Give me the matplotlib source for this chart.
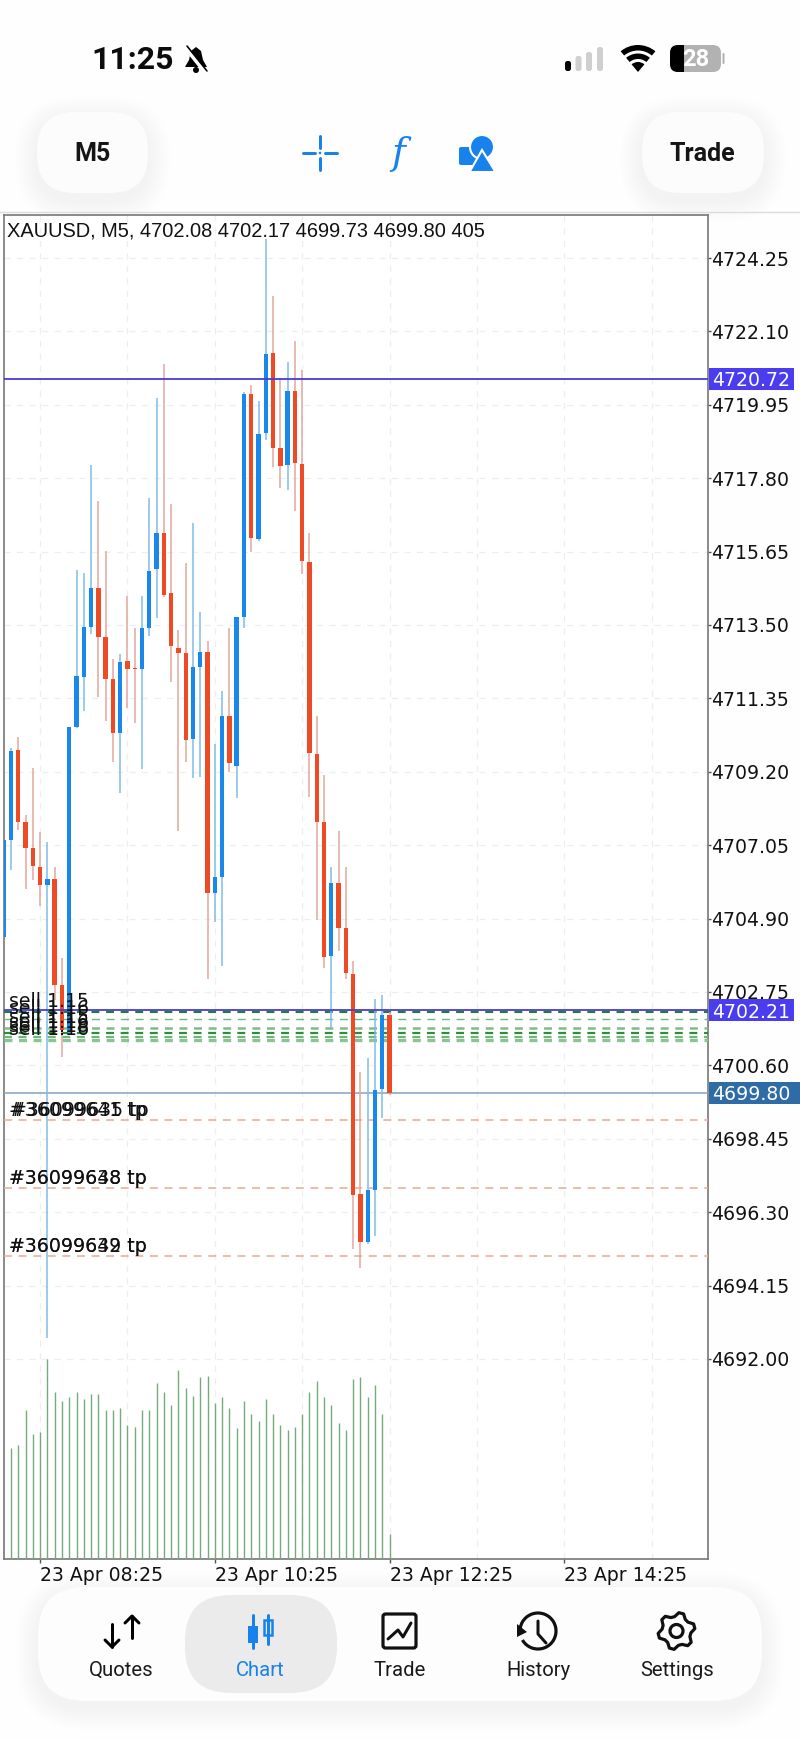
import numpy as np
import matplotlib
matplotlib.use('Agg')
import matplotlib.pyplot as plt
from matplotlib.patches import FancyBboxPatch, Rectangle, Circle, Polygon, Wedge, Arc

# Candles, oldest first. The first one sits half behind the left border
bars = list(range(-1, 53))
opens = [4704.36, 4707.20, 4709.84, 4707.73, 4706.97, 4706.41, 4705.89, 4706.06, 4702.96, 4701.58,
         4710.52, 4711.98, 4713.44, 4714.58, 4713.15, 4711.92, 4710.34, 4712.45, 4712.23, 4712.21,
         4713.41, 4715.14, 4716.20, 4714.44, 4712.83, 4712.68, 4710.16, 4712.27, 4712.71, 4705.65,
         4706.12, 4710.84, 4709.37, 4713.73, 4720.27, 4716.02, 4719.13, 4721.47, 4718.69, 4718.19,
         4720.35, 4718.22, 4715.35, 4709.72, 4707.73, 4703.81, 4705.95, 4704.63, 4703.28, 4696.84,
         4695.43, 4696.95, 4699.91, 4702.08]
highs = [4707.20, 4709.90, 4710.22, 4707.93, 4709.31, 4707.44, 4707.15, 4706.41, 4703.75, 4710.52,
         4715.11, 4715.03, 4718.19, 4717.13, 4715.67, 4712.50, 4712.65, 4714.35, 4713.41, 4714.35,
         4717.22, 4720.15, 4721.15, 4717.05, 4713.35, 4715.32, 4716.49, 4713.88, 4713.03, 4710.02,
         4711.57, 4713.41, 4713.73, 4720.33, 4720.53, 4720.06, 4724.81, 4723.14, 4720.74, 4721.20,
         4721.82, 4720.97, 4716.20, 4710.84, 4709.11, 4706.41, 4707.47, 4706.41, 4703.66, 4700.41,
         4700.82, 4702.55, 4702.66, 4702.17]
lows = [4704.36, 4706.32, 4707.50, 4705.77, 4706.03, 4705.27, 4692.62, 4702.52, 4700.85, 4701.55,
        4710.49, 4710.98, 4713.24, 4711.39, 4710.69, 4709.49, 4708.58, 4711.07, 4710.63, 4709.28,
        4713.18, 4713.71, 4714.32, 4711.83, 4707.47, 4709.49, 4709.02, 4709.05, 4703.13, 4704.80,
        4703.51, 4709.19, 4708.43, 4713.41, 4715.64, 4715.96, 4718.92, 4718.13, 4717.52, 4717.46,
        4716.84, 4715.00, 4708.46, 4704.86, 4703.46, 4701.70, 4703.95, 4703.13, 4695.23, 4694.67,
        4695.37, 4695.61, 4699.06, 4699.73]
closes = [4707.20, 4709.81, 4707.73, 4706.97, 4706.44, 4705.89, 4706.06, 4702.96, 4701.64, 4710.52,
          4712.01, 4713.44, 4714.58, 4713.15, 4711.92, 4710.34, 4712.42, 4712.21, 4712.20, 4713.41,
          4715.08, 4716.20, 4714.38, 4712.88, 4712.68, 4710.13, 4712.27, 4712.71, 4705.65, 4706.12,
          4710.84, 4709.46, 4713.73, 4720.27, 4716.05, 4719.10, 4721.44, 4718.69, 4718.16, 4720.35,
          4718.25, 4715.38, 4709.75, 4707.73, 4703.78, 4705.95, 4704.63, 4703.31, 4696.81, 4695.43,
          4696.95, 4699.88, 4702.08, 4699.80]
volumes = [0, 1793, 1852, 2414, 2030, 2057, 3235, 2705, 2560, 2619, 2705, 2587, 2678, 2678, 2414, 2414,
           2441, 2176, 2144, 2414, 2414, 2851, 2705, 2500, 3062, 2765, 2646, 2943, 2970, 2527, 2619,
           2441, 2117, 2560, 2349, 2236, 2587, 2349, 2176, 2090, 2144, 2349, 2705, 2884, 2619, 2500,
           2203, 2090, 2911, 2943, 2619, 2824, 2349, 405]

price_ticks = [4724.25, 4722.10, 4719.95, 4717.80, 4715.65, 4713.50, 4711.35, 4709.20, 4707.05,
               4704.90, 4702.75, 4700.60, 4698.45, 4696.30, 4694.15, 4692.00]
time_ticks = [4, 28, 52, 76]
time_labels = ['23 Apr 08:25', '23 Apr 10:25', '23 Apr 12:25', '23 Apr 14:25']
grid_bars = [4, 16, 28, 40, 52, 64, 76, 88]

alert_levels = [4720.72, 4702.21]
bid = 4699.80
sell_levels = [4702.17, 4701.96, 4701.70, 4701.55, 4701.43, 4701.35]
sell_labels = ['sell 1.15', 'sell 1.16', 'sell 1.15', 'sell 1.16', 'sell 1.18', 'sell 1.16']
sell_colors = ['#1f8030', '#74b380', '#80ba88', '#2f8c3e', '#72b27c', '#8cc392']
sell_widths = [1.5, 1.0, 1.8, 1.6, 1.6, 2.4]
tp_levels = [4699.00, 4697.01, 4695.01]
tp_labels = [['#36099641 tp', '#36099635 tp'], ['#36099648 tp', '#36099638 tp'], ['#36099642 tp', '#36099639 tp']]

title = 'XAUUSD, M5, 4702.08 4702.17 4699.73 4699.80 405'
nav_labels = ['Quotes', 'Chart', 'Trade', 'History', 'Settings']
nav_x = [121, 260, 399.5, 538, 677.5]

BLUE = '#1a87ea'
RED = '#ef4a26'
BLUE_WICK = '#7fbce8'
RED_WICK = '#e3a79c'
UI_BLUE = '#1782ec'

fig = plt.figure(figsize=(8, 17.39), dpi=100, facecolor='#fefefe')

# Phone chrome, laid out in screen pixels
ui = fig.add_axes([0, 0, 1, 1], zorder=0)
ui.set_xlim(0, 800)
ui.set_ylim(1739, 0)
ui.axis('off')


def pill(x0, y0, x1, y1, radius, color='#fcfcfc', shadow=True):
    if shadow:
        for grow in range(22, 0, -2):
            ui.add_patch(FancyBboxPatch((x0 - grow, y0 - grow + 7), x1 - x0 + 2 * grow, y1 - y0 + 2 * grow,
                                        boxstyle='round,pad=0,rounding_size=%d' % (radius + grow),
                                        fc='black', ec='none', alpha=0.0035))
    ui.add_patch(FancyBboxPatch((x0, y0), x1 - x0, y1 - y0, boxstyle='round,pad=0,rounding_size=%d' % radius,
                                fc=color, ec='none'))


def stroke(xs, ys, color='black', lw=3.0):
    ui.plot(xs, ys, color=color, lw=lw * 0.72, solid_capstyle='round', solid_joinstyle='round')


# status bar
ui.text(133, 60, '11:25', family='Roboto', fontweight='semibold', fontsize=23, ha='center', va='center', color='#0c0c0c')
ui.add_patch(Polygon([(196, 47), (201, 51), (203, 60), (207, 67), (185, 67), (189, 60), (191, 51)], fc='black'))
ui.add_patch(Circle((196, 70), 3, fc='black'))
stroke([185, 205], [47, 72], 'white', 4)
stroke([187, 207], [46, 71], 'black', 1.6)
for x, top_y, color in zip([568, 578.5, 589, 600], [61, 56, 52, 47], ['black', '#cfcfcf', '#cfcfcf', '#cfcfcf']):
    ui.add_patch(FancyBboxPatch((x - 3, top_y), 6, 71 - top_y, boxstyle='round,pad=0,rounding_size=2.5', fc=color, ec='none'))
ui.add_patch(Wedge((638, 72), 27, 230, 310, width=5.5, fc='black'))
ui.add_patch(Wedge((638, 72), 18.5, 230, 310, width=5.5, fc='black'))
ui.add_patch(Wedge((638, 72), 10, 230, 310, fc='black'))
ui.add_patch(FancyBboxPatch((670, 45), 51, 27, boxstyle='round,pad=0,rounding_size=8', fc='#b2b2b2', ec='none'))
clip = FancyBboxPatch((670, 45), 51, 27, boxstyle='round,pad=0,rounding_size=8', fc='none', ec='none', transform=ui.transData)
ui.add_patch(clip)
cover = Rectangle((670, 45), 14, 27, fc='black', ec='none')
ui.add_patch(cover)
cover.set_clip_path(clip)
ui.add_patch(FancyBboxPatch((722.5, 53), 2, 11, boxstyle='round,pad=0,rounding_size=1', fc='#b2b2b2', ec='none'))
ui.text(696, 59, '28', family='Roboto', fontweight='bold', fontsize=17, color='white', ha='center', va='center')

# top bar
ui.plot([0, 800], [211.5, 211.5], color='#dcdcdc', lw=1)
pill(37, 112, 148, 193, 38)
pill(642, 112, 764, 193, 38)
ui.text(92.5, 154, 'M5', family='Roboto', fontweight='bold', fontsize=18, ha='center', va='center', color='#151515')
ui.text(702.5, 154, 'Trade', family='Roboto', fontweight='bold', fontsize=18, ha='center', va='center', color='#151515')
stroke([303, 315], [153, 153], UI_BLUE)
stroke([325, 337], [153, 153], UI_BLUE)
stroke([320, 320], [136, 148], UI_BLUE)
stroke([320, 320], [158, 170], UI_BLUE)
ui.add_patch(Circle((320, 153), 1.3, fc=UI_BLUE, ec='none'))
ui.text(398, 154, 'f', family='DejaVu Serif', style='italic', fontsize=27, ha='center', va='center', color=UI_BLUE)
ui.add_patch(FancyBboxPatch((459, 147), 20, 18, boxstyle='round,pad=0,rounding_size=2', fc=UI_BLUE, ec='none'))
ui.add_patch(Circle((482, 147), 12, fc=UI_BLUE, ec='white', lw=1.5))
ui.add_patch(Polygon([(482, 150), (495.5, 172), (469.5, 172)], fc=UI_BLUE, ec='white', lw=1.5))

# bottom nav
pill(38, 1587, 762, 1701, 48, '#fdfdfd')
ui.add_patch(FancyBboxPatch((185, 1595), 152, 98, boxstyle='round,pad=0,rounding_size=46', fc='#ebebeb', ec='none'))
for label, x in zip(nav_labels, nav_x):
    ui.text(x, 1670, label, family='Roboto', fontsize=14.6, ha='center', va='center',
            color=UI_BLUE if label == 'Chart' else '#1a1a1a')
stroke([112, 112], [1624, 1647])
stroke([105, 112, 119], [1640, 1647, 1640])
stroke([132, 132], [1638, 1616])
stroke([125, 132, 139], [1623, 1616, 1623])
stroke([253, 253], [1615, 1648], UI_BLUE, 3)
ui.add_patch(Rectangle((248, 1626), 10, 17, fc=UI_BLUE, ec='none'))
stroke([268, 268], [1615, 1644], UI_BLUE, 3)
ui.add_patch(Rectangle((264, 1620), 8, 15, fc='#ebebeb', ec=UI_BLUE, lw=1.8))
ui.add_patch(FancyBboxPatch((383, 1614), 33, 34, boxstyle='round,pad=0,rounding_size=2.5', fc='none', ec='#111111', lw=2.3))
stroke([388, 398, 403, 411], [1639, 1630, 1637, 1623], '#111111', 3)
ui.add_patch(Arc((538, 1631), 36, 36, angle=0, theta1=-170, theta2=150, ec='#111111', lw=2.3))
stroke([538, 538, 546], [1621, 1634, 1643], '#111111', 3)
ui.add_patch(Polygon([(517, 1624), (527, 1632), (517, 1637)], fc='#111111', ec='none'))
gear_angles = np.deg2rad(np.arange(0, 360, 15) + 30 - 7.5)
gear_r = np.array([14.5, 18.5, 18.5, 14.5] * 6)
ui.add_patch(Polygon(np.c_[676.5 + gear_r * np.cos(gear_angles), 1631 + gear_r * np.sin(gear_angles)],
                     fc='none', ec='#111111', lw=2.3, joinstyle='round'))
ui.add_patch(Circle((676.5, 1631), 6.5, fc='none', ec='#111111', lw=2.3))

# Chart area
ax = fig.add_axes([3.7 / 800, 1 - 1559 / 1739, 704 / 800, 1344 / 1739], zorder=2)
ax.set_facecolor('white')
ax.set_xlim(-1, 95.7)
ax.set_ylim(4686.14, 4725.51)

for side in ax.spines.values():
    side.set_color('#777777')
    side.set_linewidth(1.2)

ax.hlines(price_ticks, -1, 95.7, color='#eeeeee', lw=0.9, linestyle=(0, (5, 5)), zorder=1)
ax.vlines(grid_bars, 4686.14, 4725.51, color='#eeeeee', lw=0.9, linestyle=(0, (5, 5)), zorder=1)

# volumes on their own scale: the 405 bar is 25 px tall
vol = ax.twinx()
vol.set_ylim(0, 21773)
vol.axis('off')
vol.patch.set_visible(False)
vol.vlines(bars, 0, volumes, color='#74aa7c', lw=1.0, zorder=2)

bars_up = [c >= o for o, c in zip(opens, closes)]
body_colors = [BLUE if up else RED for up in bars_up]
wick_colors = [BLUE_WICK if up else RED_WICK for up in bars_up]

# lines and marks above the volume axes
top = ax.twinx()
top.set_ylim(ax.get_ylim())
top.axis('off')
top.patch.set_visible(False)
top.set_xlim(ax.get_xlim())

# twinx moves the host ticks to the left, so set them after the twins exist
ax.yaxis.tick_right()
ax.set_yticks(price_ticks, labels=['%.2f' % p for p in price_ticks])
ax.set_xticks(time_ticks, labels=time_labels)
ax.tick_params(axis='y', length=2.5, width=1, color='#555555', labelsize=13.6, pad=0, labelcolor='#111111')
ax.tick_params(axis='x', length=3, width=1, color='#555555', labelsize=13.6, pad=2, labelcolor='#111111')
for t in ax.get_xticklabels():
    t.set_ha('left')

top.hlines(tp_levels, -1, 95.7, color='#eaa98f', lw=1.1, linestyle=(0, (5.2, 4.35)), zorder=2)
for lev, col, w in zip(sell_levels, sell_colors, sell_widths):
    top.hlines(lev, -1, 95.7, color=col, lw=w, linestyle=(0, (5.7 / w, 4.8 / w)), zorder=2)
top.hlines(bid, -1, 95.7, color='#8fa9c8', lw=1.2, zorder=2)

top.vlines(bars, lows, highs, color=wick_colors, lw=1.1, zorder=3)
top.bar(bars, np.abs(np.array(closes) - np.array(opens)), bottom=np.minimum(opens, closes), width=0.6,
        color=body_colors, zorder=4)
top.hlines(alert_levels, -1, 95.7, color='#4a3ad8', lw=1.3, zorder=5)

for lev, label in zip(sell_levels, sell_labels):
    top.annotate(label, (-1, lev), xytext=(5, 1), textcoords='offset pixels', fontsize=13.6,
                 ha='left', va='bottom', color='#111111', zorder=6)
for lev, pair in zip(tp_levels, tp_labels):
    top.annotate(pair[0], (-1, lev), xytext=(5, 0), textcoords='offset pixels', fontsize=13.6,
                 ha='left', va='bottom', color='#111111', zorder=6)
    top.annotate(pair[1], (-1, lev), xytext=(5 + (lev == tp_levels[0]) * 2, 0), textcoords='offset pixels',
                 fontsize=13.6, ha='left', va='bottom', color='#111111', zorder=6)

top.text(3.5 / 704, 4725.51 - 16 / 34.14, title, transform=top.get_yaxis_transform(), family='Liberation Sans',
         fontsize=14.4, ha='left', va='center', color='#111111', zorder=7)

# price badges on the right scale
for lev, col, w in [(alert_levels[0], '#4a3df0', 85), (alert_levels[1], '#4a3df0', 85), (bid, '#2f6ca6', 91)]:
    top.add_patch(Rectangle((1.0018, lev - 11 / 34.14), w / 704, 22 / 34.14, transform=top.get_yaxis_transform(),
                            fc=col, ec='none', clip_on=False, zorder=8))
    top.text(1 + 4 / 704, lev, '%.2f' % lev, transform=top.get_yaxis_transform(), fontsize=13.6, color='white',
             ha='left', va='center_baseline', zorder=9)

plt.savefig('out.png', dpi=100, facecolor=fig.get_facecolor())
